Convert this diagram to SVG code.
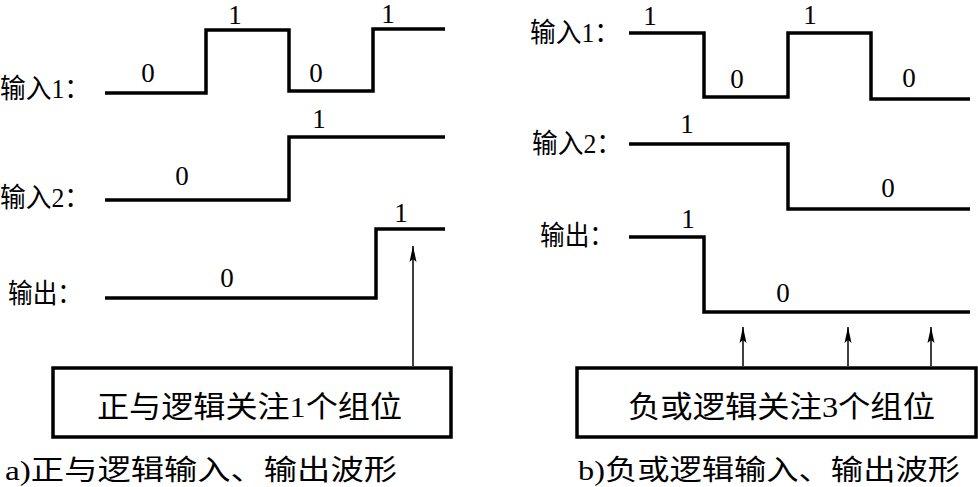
<svg xmlns="http://www.w3.org/2000/svg" width="978" height="487" viewBox="0 0 978 487">
<style>
.wave{fill:none;stroke:#000;stroke-width:3.5;stroke-linejoin:miter}
.box{fill:#fff;stroke:#000;stroke-width:3.5}
.conn{stroke:#000;stroke-width:1.5;fill:none}
.cjk{font-family:"Noto Sans CJK SC","Noto Sans CJK JP",sans-serif;fill:#000}
.d{font-family:"Liberation Serif",serif}
.num{font-family:"Liberation Serif",serif;font-size:27px;fill:#000;text-anchor:middle}
</style>
<defs>
<marker id="ah" viewBox="0 0 16 8" refX="16" refY="4" markerWidth="16" markerHeight="8" markerUnits="userSpaceOnUse" orient="auto">
<path d="M16 4 L0 0.5 L3 4 L0 7.5 Z" fill="#000"/>
</marker>
</defs>
<g id="panel-a">
<g id="a-in1">
<text class="cjk" x="0" y="98" font-size="27" textLength="90" lengthAdjust="spacingAndGlyphs">输入<tspan class="d">1</tspan>：</text>
<path class="wave" d="M105 93 H206 V30 H289 V91 H373 V29 H445"/>
<text class="num" x="148" y="82">0</text>
<text class="num" x="235" y="24">1</text>
<text class="num" x="316" y="82">0</text>
<text class="num" x="388" y="23">1</text>
</g>
<g id="a-in2">
<text class="cjk" x="0" y="207" font-size="27" textLength="90" lengthAdjust="spacingAndGlyphs">输入<tspan class="d">2</tspan>：</text>
<path class="wave" d="M105 200 H289 V137 H445"/>
<text class="num" x="182" y="185">0</text>
<text class="num" x="319" y="128">1</text>
</g>
<g id="a-out">
<text class="cjk" x="8" y="303" font-size="27" textLength="74" lengthAdjust="spacingAndGlyphs">输出：</text>
<path class="wave" d="M105 298 H376 V229 H445"/>
<text class="num" x="227" y="287">0</text>
<text class="num" x="401" y="222">1</text>
</g>
<g id="a-box">
<rect class="box" x="53" y="368" width="398" height="69"/>
<text class="cjk" x="97" y="417" font-size="30" textLength="305" lengthAdjust="spacingAndGlyphs">正与逻辑关注<tspan class="d">1</tspan>个组位</text>
</g>
<text id="a-caption" class="cjk" x="5" y="480" font-size="28" textLength="392" lengthAdjust="spacingAndGlyphs"><tspan class="d">a)</tspan>正与逻辑输入、输出波形</text>
</g>
<g id="panel-b">
<g id="b-in1">
<text class="cjk" x="530" y="42" font-size="27" textLength="90" lengthAdjust="spacingAndGlyphs">输入<tspan class="d">1</tspan>：</text>
<path class="wave" d="M629 33 H704 V97 H788 V33 H871 V99 H970"/>
<text class="num" x="650" y="25">1</text>
<text class="num" x="737" y="88">0</text>
<text class="num" x="810" y="24">1</text>
<text class="num" x="909" y="87">0</text>
</g>
<g id="b-in2">
<text class="cjk" x="532" y="153" font-size="27" textLength="90" lengthAdjust="spacingAndGlyphs">输入<tspan class="d">2</tspan>：</text>
<path class="wave" d="M629 144 H788 V209 H970"/>
<text class="num" x="687" y="133">1</text>
<text class="num" x="888" y="197">0</text>
</g>
<g id="b-out">
<text class="cjk" x="540" y="245" font-size="27" textLength="74" lengthAdjust="spacingAndGlyphs">输出：</text>
<path class="wave" d="M629 237 H704 V312 H970"/>
<text class="num" x="688" y="228">1</text>
<text class="num" x="783" y="302">0</text>
</g>
<g id="b-box">
<rect class="box" x="577" y="368" width="399" height="69"/>
<text class="cjk" x="628" y="417" font-size="30" textLength="307" lengthAdjust="spacingAndGlyphs">负或逻辑关注<tspan class="d">3</tspan>个组位</text>
</g>
<text id="b-caption" class="cjk" x="578" y="480" font-size="28" textLength="382" lengthAdjust="spacingAndGlyphs"><tspan class="d">b)</tspan>负或逻辑输入、输出波形</text>
</g>
<g id="connectors">
<line class="conn" x1="413" y1="366" x2="413" y2="246" marker-end="url(#ah)"/>
<line class="conn" x1="743" y1="366" x2="743" y2="327" marker-end="url(#ah)"/>
<line class="conn" x1="848" y1="366" x2="848" y2="327" marker-end="url(#ah)"/>
<line class="conn" x1="931" y1="366" x2="931" y2="327" marker-end="url(#ah)"/>
</g>
</svg>
